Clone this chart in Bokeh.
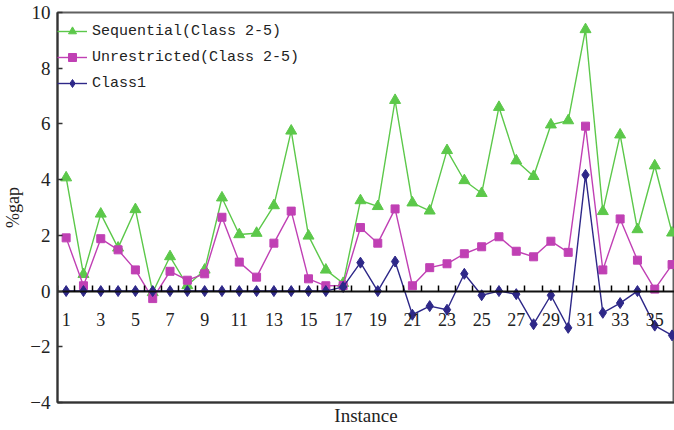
from bokeh.plotting import figure
from bokeh.models import LinearAxis, FixedTicker
from bokeh.embed import file_html
from bokeh.resources import INLINE

instances = list(range(1, 37))
sequential = [4.07, 0.60, 2.77, 1.55, 2.93, -0.05, 1.24, 0.20, 0.76, 3.35,
              2.03, 2.08, 3.07, 5.75, 1.98, 0.76, 0.28, 3.25, 3.04, 6.85,
              3.17, 2.88, 5.05, 3.97, 3.51, 6.60, 4.68, 4.12, 5.97, 6.12,
              9.39, 2.86, 5.61, 2.21, 4.50, 2.09]
unrestricted = [1.91, 0.19, 1.88, 1.48, 0.76, -0.27, 0.71, 0.39, 0.62, 2.65,
                1.04, 0.50, 1.72, 2.87, 0.44, 0.19, 0.20, 2.28, 1.72, 2.95,
                0.19, 0.84, 0.98, 1.34, 1.59, 1.95, 1.43, 1.23, 1.79, 1.39,
                5.92, 0.76, 2.59, 1.11, 0.07, 0.95]
class1 = [0, 0, 0, 0, 0, 0, 0, 0, 0, 0,
          0, 0, 0, 0, 0, 0, 0.15, 1.02, 0, 1.06,
          -0.85, -0.54, -0.67, 0.62, -0.15, 0, -0.11, -1.19, -0.15, -1.32,
          4.17, -0.78, -0.43, 0, -1.24, -1.59]
x_label_ticks = list(range(1, 37, 2))
x_mark_ticks = [i + 0.5 for i in range(0, 36)]
y_ticks = [-4, -2, 0, 2, 4, 6, 8, 10]

serif = "Liberation Serif"
axis_col = "#333333"

p = figure(frame_width=617, frame_height=390, x_range=(0.5, 36.14), y_range=(-4, 10),
           output_backend="svg", toolbar_location=None,
           min_border_top=12, min_border_left=49, min_border_right=0,
           min_border_bottom=0, x_axis_location=None)
p.grid.visible = False
p.background_fill_color = "white"
p.outline_line_color = "#606060"
p.outline_line_width = 2

# bottom axis: frame line + title
bottom = LinearAxis(ticker=FixedTicker(ticks=[]), axis_label="Instance")
bottom.axis_line_color = axis_col
bottom.axis_line_width = 2
bottom.major_tick_line_color = None
bottom.minor_tick_line_color = None
bottom.major_label_text_color = None
bottom.axis_label_text_font = serif
bottom.axis_label_text_font_size = "19px"
bottom.axis_label_text_font_style = "normal"
bottom.axis_label_text_color = "#222222"
bottom.axis_label_standoff = 2
p.add_layout(bottom, "below")

# zero axis: line and tick marks
zero = LinearAxis(ticker=FixedTicker(ticks=x_mark_ticks), fixed_location=0)
zero.axis_line_color = "#111111"
zero.axis_line_width = 2
zero.major_tick_in = 6
zero.major_tick_out = 0
zero.major_tick_line_color = "black"
zero.major_tick_line_width = 1.5
zero.minor_tick_line_color = None
zero.major_label_text_color = None
p.add_layout(zero, "below")

# zero axis: labels
zlab = LinearAxis(ticker=FixedTicker(ticks=x_label_ticks), fixed_location=0)
zlab.axis_line_color = None
zlab.major_tick_line_color = None
zlab.minor_tick_line_color = None
zlab.major_label_text_font = serif
zlab.major_label_text_font_size = "18px"
zlab.major_label_text_color = "#222222"
zlab.major_label_standoff = 16
p.add_layout(zlab, "below")

ya = p.yaxis[0]
ya.ticker = FixedTicker(ticks=y_ticks)
ya.major_label_overrides = {-4: "\u22124", -2: "\u22122"}
ya.axis_line_color = axis_col
ya.axis_line_width = 2
ya.major_tick_in = 5
ya.major_tick_out = 0
ya.major_tick_line_color = axis_col
ya.major_tick_line_width = 1.5
ya.minor_tick_line_color = None
ya.major_label_text_font = serif
ya.major_label_text_font_size = "19px"
ya.major_label_text_color = "#222222"
ya.major_label_standoff = 7
ya.axis_label = "%gap"
ya.axis_label_text_font = serif
ya.axis_label_text_font_size = "18px"
ya.axis_label_text_font_style = "normal"
ya.axis_label_text_color = "#222222"
ya.axis_label_standoff = 4

green = "#5cc84a"
magenta = "#c040b4"
navy = "#2e2888"

p.line(instances, sequential, line_color=green, line_width=1.4, legend_label="Sequential(Class 2-5)")
p.scatter(instances, sequential, marker="triangle", size=11, color=green, legend_label="Sequential(Class 2-5)")
p.line(instances, unrestricted, line_color=magenta, line_width=1.4, legend_label="Unrestricted(Class 2-5)")
p.scatter(instances, unrestricted, marker="square", size=8, color=magenta, legend_label="Unrestricted(Class 2-5)")
p.line(instances, class1, line_color=navy, line_width=1.4, legend_label="Class1")
p.scatter(instances, class1, marker="diamond", size=11, color=navy, legend_label="Class1")

lg = p.legend[0]
lg.location = (0, 309)
lg.background_fill_alpha = 0
lg.border_line_color = None
lg.padding = 0
lg.margin = 0
lg.spacing = 6
lg.glyph_width = 30
lg.glyph_height = 20
lg.label_height = 20
lg.label_standoff = 5
lg.label_text_font = "Liberation Mono"
lg.label_text_font_size = "15px"
lg.label_text_color = "#222222"

open("out.html", "w").write(file_html(p, INLINE))
